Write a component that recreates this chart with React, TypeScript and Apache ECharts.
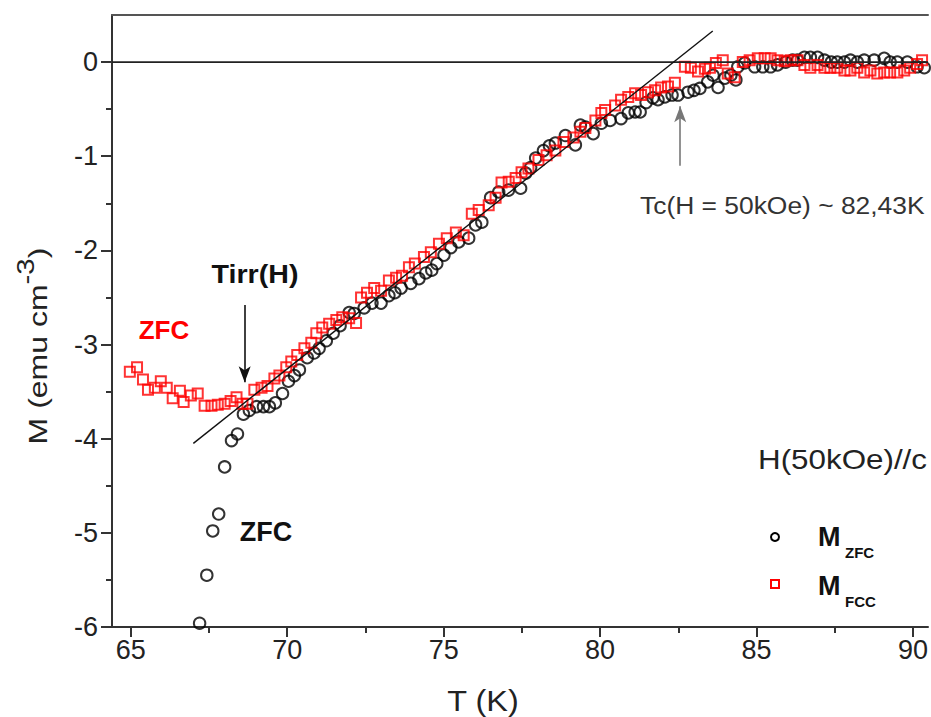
import React, { useEffect, useRef } from "react";
import * as echarts from "echarts";

// ---- data ----
const T_ZFC = [
  67.2, 67.43, 67.62, 67.81, 68.0, 68.22, 68.41, 68.6, 68.79, 69.02, 69.24, 69.43, 69.62, 69.85, 70.04,
  70.23, 70.39, 70.64, 70.86, 71.02, 71.25, 71.47, 71.69, 71.98, 72.14, 72.46, 72.71, 73.0, 73.25, 73.44,
  73.64, 73.95, 74.21, 74.43, 74.62, 74.78, 75.01, 75.23, 75.48, 75.8, 76.02, 76.22, 76.5, 76.76, 77.07,
  77.46, 77.62, 77.78, 77.94, 78.19, 78.38, 78.57, 78.89, 79.21, 79.37, 79.53, 79.78, 80.04, 80.32, 80.67,
  80.9, 81.12, 81.28, 81.47, 81.69, 81.85, 82.07, 82.3, 82.49, 82.81, 83.0, 83.19, 83.44, 83.61, 83.77,
  83.99, 84.18, 84.34, 84.4, 84.62, 84.94, 85.2, 85.45, 85.67, 85.93, 86.15, 86.31, 86.53, 86.72, 86.95,
  87.17, 87.39, 87.58, 87.81, 88.0, 88.22, 88.44, 88.76, 89.08, 89.27, 89.5, 89.82, 90.13, 90.36,
];
const M_ZFC = [
  -5.96, -5.45, -4.98, -4.8, -4.3, -4.02, -3.95, -3.74, -3.7, -3.66, -3.66, -3.66, -3.62, -3.52, -3.39,
  -3.33, -3.27, -3.14, -3.09, -3.04, -2.96, -2.88, -2.8, -2.66, -2.67, -2.61, -2.56, -2.56, -2.48, -2.45,
  -2.4, -2.35, -2.3, -2.24, -2.21, -2.14, -2.05, -1.97, -1.91, -1.87, -1.73, -1.7, -1.44, -1.38, -1.36,
  -1.34, -1.18, -1.12, -1.02, -0.94, -0.89, -0.86, -0.78, -0.88, -0.67, -0.69, -0.76, -0.65, -0.62, -0.6,
  -0.54, -0.53, -0.53, -0.43, -0.38, -0.4, -0.37, -0.35, -0.35, -0.32, -0.3, -0.28, -0.21, -0.14, -0.27,
  -0.17, -0.14, -0.19, -0.05, -0.01, -0.05, -0.05, -0.05, -0.03, 0.0, 0.02, 0.02, 0.05, 0.05, 0.05,
  0.02, 0.0, 0.0, 0.0, 0.02, 0.0, 0.02, 0.02, 0.04, 0.0, 0.0, 0.0, -0.05, -0.06,
];
const T_FCC = [
  64.97, 65.2, 65.39, 65.55, 65.77, 65.96, 66.15, 66.34, 66.57, 66.69, 66.92, 67.14, 67.36, 67.58, 67.78,
  68.0, 68.19, 68.38, 68.57, 68.73, 68.95, 69.18, 69.37, 69.59, 69.75, 69.97, 70.13, 70.32, 70.55, 70.77,
  70.93, 71.12, 71.34, 71.57, 71.76, 71.98, 72.2, 72.36, 72.55, 72.78, 73.0, 73.25, 73.48, 73.67, 73.89,
  74.08, 74.37, 74.59, 74.85, 75.1, 75.39, 75.64, 75.9, 76.12, 76.44, 76.66, 76.85, 77.08, 77.3, 77.49,
  77.71, 78.03, 78.29, 78.57, 78.83, 79.15, 79.37, 79.53, 79.85, 80.04, 80.16, 80.48, 80.67, 80.9, 81.12,
  81.31, 81.53, 81.76, 81.95, 82.17, 82.39, 82.71, 82.9, 83.13, 83.35, 83.51, 83.7, 83.92, 84.08, 84.3,
  84.56, 84.78, 85.04, 85.26, 85.45, 85.67, 85.9, 86.09, 86.31, 86.53, 86.72, 86.95, 87.17, 87.36, 87.58,
  87.81, 88.0, 88.22, 88.44, 88.64, 88.86, 89.08, 89.27, 89.5, 89.72, 89.91, 90.13, 90.29,
];
const M_FCC = [
  -3.29, -3.24, -3.37, -3.48, -3.46, -3.39, -3.46, -3.57, -3.49, -3.61, -3.54, -3.52, -3.65, -3.65, -3.64,
  -3.63, -3.6, -3.56, -3.63, -3.63, -3.48, -3.46, -3.44, -3.36, -3.33, -3.24, -3.18, -3.11, -3.04, -2.98,
  -2.88, -2.82, -2.78, -2.74, -2.71, -2.72, -2.77, -2.5, -2.45, -2.4, -2.43, -2.32, -2.29, -2.27, -2.18,
  -2.14, -2.07, -2.02, -1.93, -1.87, -1.81, -1.84, -1.61, -1.57, -1.52, -1.44, -1.28, -1.27, -1.23, -1.17,
  -1.13, -1.04, -0.99, -0.94, -0.85, -0.8, -0.74, -0.7, -0.62, -0.54, -0.51, -0.46, -0.4, -0.37, -0.33,
  -0.35, -0.32, -0.3, -0.27, -0.26, -0.22, -0.05, -0.06, -0.1, -0.07, -0.06, -0.01, 0.02, -0.12, -0.16,
  0.0, 0.02, 0.04, 0.04, 0.04, 0.02, 0.01, 0.02, 0.02, -0.03, -0.06, -0.03, -0.06, -0.06, -0.06,
  -0.09, -0.09, -0.06, -0.11, -0.09, -0.12, -0.11, -0.11, -0.11, -0.09, -0.06, -0.02, 0.02,
];
// linear fit line endpoints (T, M)
const FIT_T = [67.0, 83.6];
const FIT_M = [-4.05, 0.33];
// zero reference line
const ZERO_T = [64.4, 90.48];
// Tirr and Tc arrows: [T, Mstart, Mend]
const TIRR_ARROW = [68.64, -2.58, -3.4];
const TC_ARROW = [82.56, -1.1, -0.47];

const X_MIN = 64.4;
const X_MAX = 90.48;
const Y_MIN = -6;
const Y_MAX = 0.5;
const X_MAJOR = [65, 70, 75, 80, 85, 90];
const X_MINOR = [67.5, 72.5, 77.5, 82.5, 87.5];
const Y_MAJOR = [-6, -5, -4, -3, -2, -1, 0];
const Y_MINOR = [-5.5, -4.5, -3.5, -2.5, -1.5, -0.5];

const FONT = '"Liberation Sans", Arial, sans-serif';

export default function App() {
  const ref = useRef<HTMLDivElement>(null);
  useEffect(() => {
    if (!ref.current) return;
    const chart = echarts.init(ref.current, null, { renderer: "svg" });
    const zfc = T_ZFC.map((t, i) => [t, M_ZFC[i]]);
    const fcc = T_FCC.map((t, i) => [t, M_FCC[i]]);
    const fit = FIT_T.map((t, i) => [t, FIT_M[i]]);
    const zero = ZERO_T.map((t) => [t, 0]);
    const axisColor = "#333";
    const option: any = {
      animation: false,
      backgroundColor: "#fff",
      textStyle: { fontFamily: FONT },
      grid: { left: 112, top: 15, right: 0, bottom: 90, containLabel: false },
      xAxis: [
        {
          type: "value", min: X_MIN, max: X_MAX, position: "bottom",
          axisLine: { show: true, onZero: false, lineStyle: { color: axisColor, width: 2 } },
          axisTick: { show: true, customValues: X_MAJOR, length: 10, inside: false, lineStyle: { color: axisColor, width: 2 } },
          axisLabel: { customValues: X_MAJOR, fontSize: 27, color: "#222", margin: 9, fontFamily: FONT },
          splitLine: { show: false },
        },
        {
          type: "value", min: X_MIN, max: X_MAX, position: "bottom",
          axisLine: { show: false, onZero: false },
          axisTick: { show: true, customValues: X_MINOR, length: 6, lineStyle: { color: axisColor, width: 2 } },
          axisLabel: { show: false },
          splitLine: { show: false },
        },
        {
          type: "value", min: X_MIN, max: X_MAX, position: "top",
          axisLine: { show: true, onZero: false, lineStyle: { color: "#555", width: 2 } },
          axisTick: { show: false },
          axisLabel: { show: false },
          splitLine: { show: false },
        },
      ],
      yAxis: [
        {
          type: "value", min: Y_MIN, max: Y_MAX, position: "left",
          axisLine: { show: true, onZero: false, lineStyle: { color: axisColor, width: 2 } },
          axisTick: { show: true, customValues: Y_MAJOR, length: 11, lineStyle: { color: axisColor, width: 2 } },
          axisLabel: { customValues: Y_MAJOR, fontSize: 27, color: "#222", margin: 14, fontFamily: FONT },
          splitLine: { show: false },
        },
        {
          type: "value", min: Y_MIN, max: Y_MAX, position: "left",
          axisLine: { show: false, onZero: false },
          axisTick: { show: true, customValues: Y_MINOR, length: 6, lineStyle: { color: axisColor, width: 2 } },
          axisLabel: { show: false },
          splitLine: { show: false },
        },
      ],
      series: [
        {
          type: "line", data: zero, symbol: "none", silent: true,
          lineStyle: { color: "#222", width: 1.6 },
        },
        {
          type: "line", data: fit, symbol: "none", silent: true,
          lineStyle: { color: "#111", width: 1.4 },
        },
        {
          name: "ZFC", type: "scatter", data: zfc, symbol: "circle", symbolSize: 11.5,
          itemStyle: { color: "rgba(0,0,0,0)", borderColor: "#000", borderWidth: 2 },
        },
        {
          name: "FCC", type: "scatter", data: fcc, symbol: "rect", symbolSize: 10,
          itemStyle: { color: "rgba(0,0,0,0)", borderColor: "#ff0000", borderWidth: 2 },
        },
        {
          type: "line", data: [], silent: true,
          markLine: {
            silent: true, animation: false,
            symbol: ["none", "arrow"], symbolSize: [9, 16],
            label: { show: false },
            lineStyle: { type: "solid", width: 1.6, color: "#111" },
            data: [
              [
                { coord: [TIRR_ARROW[0], TIRR_ARROW[1]] },
                { coord: [TIRR_ARROW[0], TIRR_ARROW[2]] },
              ],
              [
                { coord: [TC_ARROW[0], TC_ARROW[1]], lineStyle: { color: "#777", width: 1.6 } },
                { coord: [TC_ARROW[0], TC_ARROW[2]], lineStyle: { color: "#777", width: 1.6 } },
              ],
            ],
          },
        },
      ],
      graphic: [
        {
          type: "text", x: 33, y: 346, rotation: Math.PI / 2, scaleX: 1.28,
          style: {
            text: "{a|M (emu cm}{s|-3}{a|)}",
            align: "center", verticalAlign: "middle",
            rich: {
              a: { fontSize: 25, fontFamily: FONT, fill: "#222", lineHeight: 36, verticalAlign: "bottom" },
              s: { fontSize: 23, fontFamily: FONT, fill: "#222", lineHeight: 36, verticalAlign: "top" },
            },
          },
        },
        {
          type: "text", x: 483, y: 701, scaleX: 1.08,
          style: { text: "T (K)", fontSize: 30, fontFamily: FONT, fill: "#222", align: "center", verticalAlign: "middle" },
        },
        {
          type: "text", x: 164, y: 330,
          style: { text: "ZFC", fontSize: 26, fontWeight: "bold", fontFamily: FONT, fill: "#ff0000", align: "center", verticalAlign: "middle" },
        },
        {
          type: "text", x: 266, y: 532,
          style: { text: "ZFC", fontSize: 27, fontWeight: "bold", fontFamily: FONT, fill: "#111", align: "center", verticalAlign: "middle" },
        },
        {
          type: "text", x: 255, y: 274, scaleX: 1.1,
          style: { text: "Tirr(H)", fontSize: 26, fontWeight: "bold", fontFamily: FONT, fill: "#111", align: "center", verticalAlign: "middle" },
        },
        {
          type: "text", x: 640, y: 205, scaleX: 1.1,
          style: { text: "Tc(H = 50kOe) ~ 82,43K", fontSize: 24, fontFamily: FONT, fill: "#333", align: "left", verticalAlign: "middle" },
        },
        {
          type: "text", x: 758, y: 459, scaleX: 1.12,
          style: { text: "H(50kOe)//c", fontSize: 28, fontFamily: FONT, fill: "#222", align: "left", verticalAlign: "middle" },
        },
        {
          type: "circle", shape: { cx: 775, cy: 537, r: 4 },
          style: { fill: "none", stroke: "#000", lineWidth: 2 },
        },
        {
          type: "rect", shape: { x: 771, y: 580, width: 8, height: 8 },
          style: { fill: "none", stroke: "#ff0000", lineWidth: 2 },
        },
        {
          type: "text", x: 818, y: 537,
          style: { text: "M", fontSize: 27, fontWeight: "bold", fontFamily: FONT, fill: "#111", align: "left", verticalAlign: "middle" },
        },
        {
          type: "text", x: 845, y: 552,
          style: { text: "ZFC", fontSize: 15, fontWeight: "bold", fontFamily: FONT, fill: "#111", align: "left", verticalAlign: "middle" },
        },
        {
          type: "text", x: 818, y: 586,
          style: { text: "M", fontSize: 27, fontWeight: "bold", fontFamily: FONT, fill: "#111", align: "left", verticalAlign: "middle" },
        },
        {
          type: "text", x: 845, y: 601,
          style: { text: "FCC", fontSize: 15, fontWeight: "bold", fontFamily: FONT, fill: "#111", align: "left", verticalAlign: "middle" },
        },
      ],
    };
    chart.setOption(option);
    return () => chart.dispose();
  }, []);
  return (
    <div
      ref={ref}
      style={{ position: "fixed", left: 0, top: 0, width: 931, height: 717, background: "#fff" }}
    />
  );
}
